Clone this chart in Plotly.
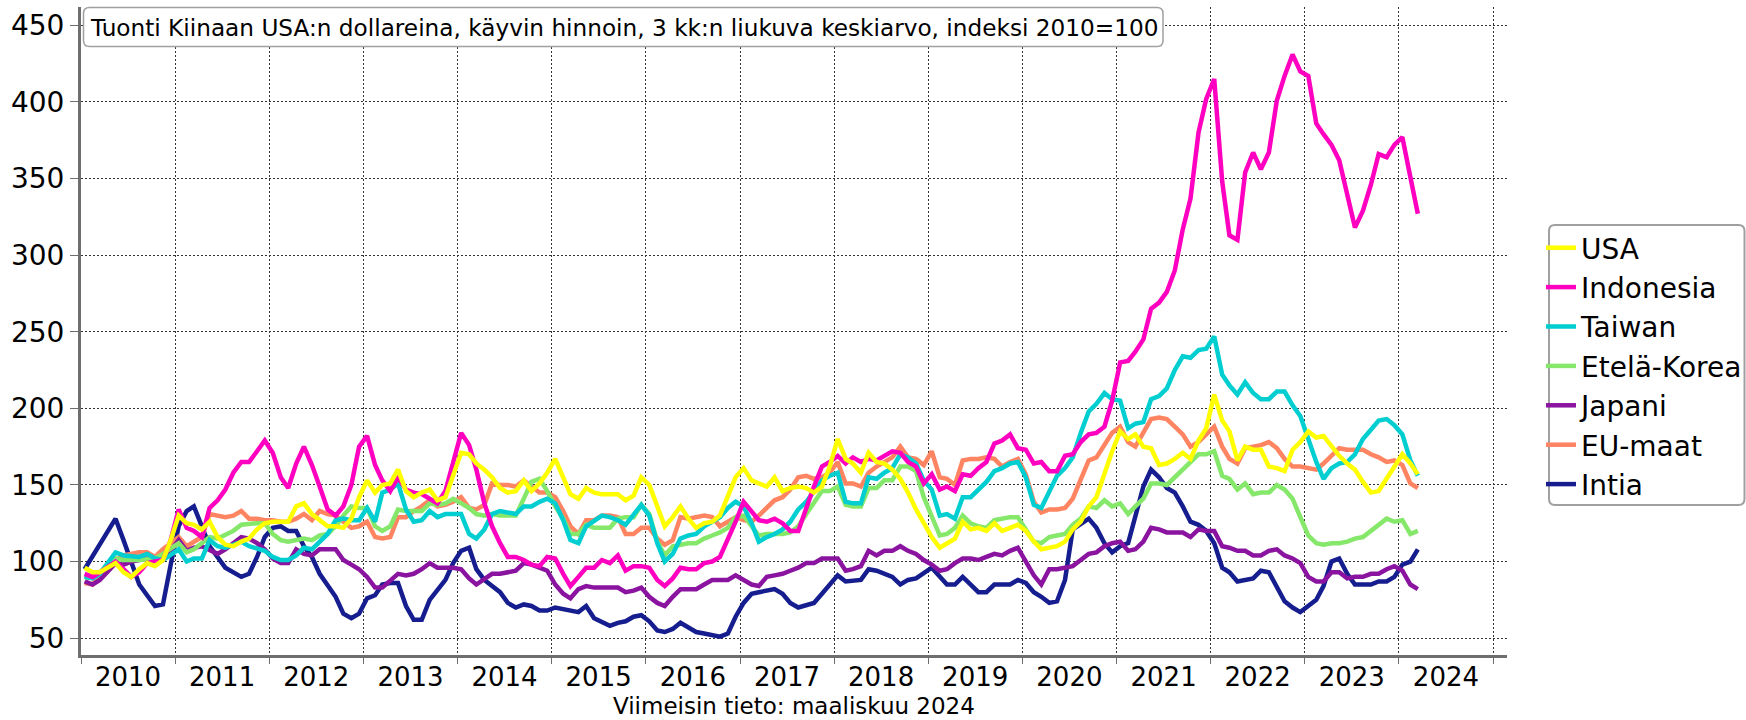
import plotly.graph_objects as go
import pandas as pd

# Index values (2010=100), 3-month moving average.
# Each pair: (months since January 2010, value)
USA = [(0,96),(1,93),(2,93),(4,99),(5,93),(6,90),(7,95),(8,99),(9,97),(10,101),(11,114),(12,130),(13,125),(14,124),(15,121),(16,126),(17,116),(18,111),(19,110),(20,113),(21,115),(22,121),(23,125),(24,126),(25,126),(26,126),(27,136),(28,138),(29,131),(30,127),(31,123),(32,123),(33,122),(34,128),(35,142),(36,153),(37,145),(38,150),(39,151),(40,160),(41,146),(42,142),(43,145),(44,147),(45,140),(46,142),(47,156),(48,171),(49,170),(50,164),(51,160),(52,155),(53,148),(54,145),(55,146),(56,153),(57,146),(58,151),(59,158),(60,167),(61,155),(62,144),(63,141),(64,148),(65,145),(66,144),(67,144),(68,144),(69,140),(70,143),(71,155),(72,150),(73,136),(74,123),(75,129),(76,136),(77,128),(78,122),(79,125),(80,126),(81,130),(82,142),(83,155),(84,161),(85,153),(86,151),(87,149),(88,155),(89,146),(90,148),(91,149),(92,148),(93,145),(94,149),(95,162),(96,180),(97,167),(98,164),(99,158),(100,171),(101,165),(102,164),(103,160),(104,154),(105,145),(106,134),(107,125),(108,116),(109,109),(110,112),(111,115),(112,126),(113,121),(114,122),(115,120),(116,125),(117,120),(118,122),(119,124),(120,120),(121,113),(122,108),(123,109),(124,110),(125,113),(126,121),(127,126),(128,136),(129,142),(130,158),(131,172),(132,185),(133,180),(134,183),(135,175),(136,174),(137,163),(138,164),(139,167),(140,171),(141,167),(142,179),(143,187),(144,209),(145,192),(146,185),(147,166),(148,175),(149,173),(150,173),(151,162),(152,161),(153,159),(154,173),(155,178),(156,185),(157,181),(158,182),(159,175),(160,169),(161,164),(162,160),(163,152),(164,145),(165,146),(166,154),(167,163),(168,170),(169,164),(170,157)]

INDONESIA = [(0,92),(1,90),(2,93),(4,100),(5,95),(6,90),(7,93),(8,99),(10,101),(11,114),(12,134),(13,122),(14,120),(15,116),(16,135),(17,140),(18,147),(19,158),(20,165),(21,165),(22,172),(23,179),(24,171),(25,155),(26,148),(27,164),(28,175),(29,163),(30,149),(31,134),(32,130),(33,136),(34,150),(35,175),(36,182),(37,163),(38,153),(39,146),(40,155),(41,147),(42,145),(43,144),(44,141),(45,138),(46,146),(47,164),(48,184),(49,176),(50,160),(51,138),(52,123),(53,112),(54,103),(55,103),(56,101),(57,98),(58,97),(59,103),(60,102),(61,92),(62,84),(63,90),(64,96),(65,96),(66,101),(67,99),(68,104),(69,94),(70,97),(71,97),(72,96),(73,88),(74,84),(75,89),(76,96),(77,95),(78,95),(79,99),(80,100),(81,103),(82,114),(83,126),(84,139),(85,133),(86,127),(87,126),(88,128),(89,125),(90,120),(91,120),(92,135),(93,149),(94,162),(95,165),(96,169),(97,164),(98,168),(99,165),(100,167),(101,166),(102,169),(103,172),(104,171),(105,165),(106,162),(107,151),(108,157),(109,147),(110,149),(111,146),(112,157),(113,156),(114,161),(115,165),(116,177),(117,179),(118,183),(119,174),(120,173),(121,164),(122,165),(123,159),(124,159),(125,169),(126,170),(127,178),(128,183),(129,184),(130,188),(131,205),(132,230),(133,231),(134,237),(135,245),(136,265),(137,269),(138,276),(139,290),(140,317),(141,337),(142,380),(143,402),(144,415),(145,348),(146,313),(147,310),(148,354),(149,367),(150,356),(151,367),(152,401),(153,417),(154,431),(155,420),(156,417),(157,386),(158,379),(159,372),(160,362),(161,338),(162,318),(163,329),(164,346),(165,366),(166,364),(167,372),(168,377),(169,351),(170,327)]

TAIWAN = [(0,90),(1,89),(2,92),(4,106),(5,104),(7,103),(8,105),(9,102),(10,101),(12,108),(13,100),(14,102),(15,102),(16,114),(17,110),(18,109),(20,113),(21,110),(23,107),(24,103),(25,101),(26,101),(27,104),(28,109),(29,108),(30,113),(31,118),(32,127),(33,128),(34,127),(35,127),(36,135),(37,126),(38,145),(39,147),(40,151),(41,134),(42,126),(43,127),(44,133),(45,129),(46,131),(47,131),(48,131),(49,118),(50,115),(51,121),(52,131),(53,133),(54,132),(55,131),(56,136),(57,136),(58,139),(59,141),(60,138),(61,127),(62,114),(63,112),(64,123),(65,127),(66,130),(67,129),(68,127),(69,124),(70,131),(71,137),(72,130),(73,112),(74,100),(75,105),(76,115),(77,117),(78,118),(79,123),(80,126),(81,129),(82,135),(83,139),(84,136),(85,125),(86,113),(87,116),(88,118),(89,121),(90,126),(91,134),(92,139),(93,146),(94,153),(95,156),(96,158),(97,139),(98,138),(99,138),(100,155),(101,154),(102,158),(103,161),(104,170),(105,168),(106,164),(107,153),(108,147),(109,130),(110,131),(111,128),(112,142),(113,142),(114,147),(115,152),(116,159),(117,161),(118,164),(119,165),(120,155),(121,137),(122,135),(123,146),(124,156),(125,161),(126,168),(127,184),(128,198),(129,203),(130,210),(131,206),(132,205),(133,187),(134,190),(135,191),(136,206),(137,208),(138,213),(139,225),(140,234),(141,233),(142,238),(143,239),(144,247),(145,222),(146,215),(147,209),(148,217),(149,210),(150,206),(151,206),(152,211),(153,211),(154,202),(155,195),(156,179),(157,165),(158,154),(159,161),(160,164),(161,165),(162,170),(163,180),(164,186),(165,192),(166,193),(167,189),(168,183),(169,166),(170,156)]

ETELA_KOREA = [(0,89),(2,93),(4,102),(5,101),(7,101),(9,102),(10,105),(12,112),(13,106),(14,108),(16,116),(17,115),(19,120),(20,124),(22,125),(23,125),(24,118),(25,114),(26,113),(27,114),(28,115),(29,114),(30,117),(31,118),(32,123),(33,130),(34,136),(35,135),(36,135),(37,123),(38,120),(39,123),(40,134),(41,133),(42,133),(43,133),(44,138),(45,137),(46,138),(47,141),(48,138),(49,135),(50,131),(51,130),(52,131),(53,130),(54,130),(55,130),(56,141),(57,152),(58,154),(59,146),(60,136),(61,128),(62,118),(63,118),(64,124),(65,122),(66,122),(67,122),(68,128),(69,129),(70,129),(71,137),(72,131),(73,113),(74,104),(75,110),(76,111),(77,112),(78,112),(79,115),(80,117),(81,119),(82,122),(83,129),(84,130),(85,123),(86,117),(87,118),(88,118),(89,118),(90,119),(91,123),(92,131),(93,138),(94,146),(95,146),(96,149),(97,137),(98,136),(99,136),(100,148),(101,148),(102,153),(103,153),(104,162),(105,162),(106,159),(107,142),(108,130),(109,117),(110,118),(111,122),(112,130),(113,125),(114,123),(115,122),(116,127),(117,128),(118,129),(119,129),(120,121),(121,113),(122,112),(123,116),(124,117),(125,118),(126,124),(127,128),(128,136),(129,135),(130,140),(131,136),(132,138),(133,131),(134,136),(135,141),(136,151),(137,151),(138,150),(139,155),(140,161),(141,165),(142,170),(143,170),(144,172),(145,156),(146,154),(147,147),(148,151),(149,144),(150,145),(151,145),(152,150),(153,147),(154,141),(155,129),(156,117),(157,112),(158,111),(159,112),(160,112),(161,113),(162,115),(163,116),(164,120),(165,124),(166,128),(167,126),(168,127),(169,118),(170,120)]

JAPANI = [(0,87),(1,85),(2,88),(4,99),(5,98),(6,100),(8,102),(9,99),(11,107),(12,114),(13,107),(14,109),(15,110),(17,105),(18,108),(20,116),(21,115),(22,112),(23,108),(24,102),(25,99),(26,99),(27,108),(28,105),(29,104),(30,108),(32,108),(33,101),(34,98),(35,95),(36,90),(37,83),(38,83),(39,88),(40,92),(41,91),(42,92),(43,95),(44,99),(45,96),(46,96),(47,96),(48,95),(49,89),(50,85),(51,89),(52,92),(53,92),(54,93),(55,94),(56,99),(57,98),(58,96),(59,94),(60,85),(61,79),(62,76),(63,82),(64,84),(65,83),(66,83),(67,83),(68,83),(69,80),(70,81),(71,83),(72,77),(73,73),(74,71),(75,77),(76,82),(77,82),(78,82),(79,85),(80,88),(81,88),(82,88),(83,91),(84,88),(85,85),(86,84),(87,90),(88,91),(89,92),(90,94),(91,96),(92,99),(93,99),(94,102),(95,102),(96,102),(97,94),(98,95),(99,97),(100,107),(101,104),(102,107),(103,107),(104,110),(105,107),(106,105),(107,101),(108,98),(109,94),(110,95),(111,99),(112,102),(113,102),(114,101),(115,103),(116,105),(117,104),(118,107),(119,109),(120,100),(121,91),(122,85),(123,95),(124,95),(125,96),(126,97),(127,101),(128,105),(129,106),(130,110),(131,112),(132,113),(133,107),(134,108),(135,113),(136,122),(137,121),(138,119),(139,119),(140,119),(141,116),(142,121),(143,120),(144,120),(145,110),(146,109),(147,107),(148,107),(149,104),(150,104),(151,107),(152,108),(153,104),(154,102),(155,99),(156,90),(157,87),(158,87),(159,93),(160,93),(161,89),(162,90),(163,90),(164,92),(165,92),(166,95),(167,97),(168,94),(169,85),(170,82)]

EU_MAAT = [(0,86),(1,85),(2,92),(4,101),(5,104),(6,105),(7,106),(8,106),(9,103),(10,108),(11,112),(12,116),(13,110),(14,113),(15,116),(16,131),(17,130),(18,129),(19,130),(20,133),(21,128),(22,128),(23,127),(24,127),(25,126),(26,126),(27,128),(28,131),(29,127),(30,133),(31,131),(32,130),(33,126),(34,122),(35,123),(36,126),(37,116),(38,115),(39,116),(40,129),(41,129),(42,133),(43,136),(44,140),(45,136),(46,137),(47,139),(48,142),(49,135),(50,134),(51,137),(52,151),(53,150),(54,150),(55,149),(56,153),(57,149),(58,145),(59,145),(60,142),(61,133),(62,123),(63,118),(64,127),(65,127),(66,130),(67,130),(68,129),(69,118),(70,118),(71,122),(72,122),(73,115),(74,111),(75,114),(76,129),(77,128),(78,129),(79,130),(80,129),(81,123),(82,126),(83,129),(84,127),(85,126),(86,130),(87,135),(88,140),(89,142),(90,147),(91,155),(92,156),(93,154),(94,155),(95,158),(96,165),(97,151),(98,151),(99,149),(100,158),(101,162),(102,165),(103,168),(104,175),(105,168),(106,167),(107,163),(108,172),(109,155),(110,154),(111,150),(112,166),(113,167),(114,167),(115,168),(116,167),(117,162),(118,165),(119,167),(120,157),(121,139),(122,132),(123,134),(124,134),(125,135),(126,141),(127,153),(128,166),(129,168),(130,176),(131,184),(132,188),(133,178),(134,175),(135,184),(136,193),(137,194),(138,193),(139,188),(140,183),(141,175),(142,178),(143,183),(144,188),(145,175),(146,167),(147,164),(148,174),(149,175),(150,176),(151,178),(152,174),(153,167),(154,162),(155,162),(156,161),(157,160),(158,164),(159,169),(160,174),(161,173),(162,173),(163,173),(164,170),(165,168),(166,165),(167,166),(168,163),(169,151),(170,148)]

INTIA = [(0,95),(4,128),(5,114),(7,85),(9,71),(10,72),(11,98),(12,123),(13,133),(14,136),(15,123),(16,110),(18,96),(20,90),(21,92),(22,103),(23,116),(24,122),(25,123),(26,120),(27,120),(28,110),(29,103),(30,92),(32,77),(33,66),(34,63),(35,66),(36,76),(37,78),(38,85),(39,86),(40,86),(41,71),(42,62),(43,62),(44,75),(45,82),(46,88),(47,99),(48,107),(49,109),(50,95),(51,88),(53,80),(54,73),(55,70),(56,72),(57,71),(58,68),(59,68),(60,70),(61,69),(63,67),(64,71),(65,63),(67,58),(68,60),(69,61),(70,64),(71,65),(72,61),(73,55),(74,54),(75,56),(76,60),(77,57),(78,54),(79,53),(81,51),(82,53),(83,64),(84,73),(85,79),(86,80),(88,82),(89,79),(90,73),(91,70),(93,73),(94,79),(96,91),(97,87),(99,88),(100,95),(101,94),(103,90),(104,85),(105,88),(106,89),(108,96),(109,90),(110,85),(111,85),(112,90),(113,85),(114,80),(115,80),(116,85),(118,85),(119,88),(120,86),(121,80),(122,77),(123,73),(124,74),(125,88),(126,121),(128,128),(129,122),(130,112),(131,106),(132,110),(133,112),(134,131),(135,149),(136,160),(137,155),(138,148),(139,145),(140,136),(141,126),(142,124),(143,120),(144,112),(145,96),(146,93),(147,87),(149,89),(150,94),(151,93),(152,84),(153,74),(154,70),(155,67),(157,75),(158,84),(159,100),(160,102),(161,92),(162,85),(164,85),(165,87),(166,87),(167,90),(168,98),(169,100),(170,108)]

SERIES_NAMES = ["USA", "Indonesia", "Taiwan", "Etelä-Korea", "Japani", "EU-maat", "Intia"]
SERIES_DATA = [USA, INDONESIA, TAIWAN, ETELA_KOREA, JAPANI, EU_MAAT, INTIA]
SERIES_COLORS = ["#FFFF00", "#FF00C0", "#00CED1", "#85E86A", "#8A14A0", "#FF8462", "#161E8F"]

TITLE_TEXT = "Tuonti Kiinaan USA:n dollareina, käyvin hinnoin, 3 kk:n liukuva keskiarvo, indeksi 2010=100"
XTITLE_TEXT = "Viimeisin tieto: maaliskuu 2024"
Y_TICKS = [50, 100, 150, 200, 250, 300, 350, 400, 450]

FONT = "DejaVu Sans"
W, H = 1746, 720
ML, MR, MT, MB = 81, 239, 7, 65


def month_date(m):
    return pd.Timestamp(year=2010 + m // 12, month=m % 12 + 1, day=15)


fig = go.Figure()
for rank in reversed(range(len(SERIES_NAMES))):
    pts = SERIES_DATA[rank]
    fig.add_trace(go.Scatter(
        x=[month_date(m) for m, _ in pts],
        y=[v for _, v in pts],
        mode="lines",
        name=SERIES_NAMES[rank],
        line=dict(color=SERIES_COLORS[rank], width=4.5),
        legendrank=rank + 1,
    ))

# pixel -> paper helpers for decorative boxes
pw = W - ML - MR
ph = H - MT - MB


def px(x):
    return (x - ML) / pw


def py(y):
    return (H - MB - y) / ph


def rrect(x0, y0, x1, y1, r):
    pts = [
        ("M", x0 + r, y0), ("L", x1 - r, y0), ("Q", x1, y0, x1, y0 + r),
        ("L", x1, y1 - r), ("Q", x1, y1, x1 - r, y1), ("L", x0 + r, y1),
        ("Q", x0, y1, x0, y1 - r), ("L", x0, y0 + r), ("Q", x0, y0, x0 + r, y0),
    ]
    s = ""
    for p in pts:
        cmd = p[0]
        coords = p[1:]
        parts = []
        for i in range(0, len(coords), 2):
            parts.append(f"{px(coords[i]):.5f},{py(coords[i + 1]):.5f}")
        s += cmd + " " + " ".join(parts) + " "
    return s + "Z"


fig.add_shape(type="path", xref="paper", yref="paper",
              path=rrect(83.5, 7.5, 1163, 46.5, 6),
              line=dict(color="#a0a0a0", width=1.5), fillcolor="white", layer="above")
fig.add_shape(type="path", xref="paper", yref="paper",
              path=rrect(1549, 225, 1744.5, 505, 6),
              line=dict(color="#a0a0a0", width=2), fillcolor="white", layer="below")

fig.add_annotation(
    text=TITLE_TEXT, xref="paper", yref="paper", x=px(88), y=py(27),
    xanchor="left", yanchor="middle", showarrow=False,
    font=dict(family=FONT, size=23.2, color="black"),
)
fig.add_annotation(
    text=XTITLE_TEXT, xref="paper", yref="paper", x=0.5, y=py(706),
    xanchor="center", yanchor="middle", showarrow=False,
    font=dict(family=FONT, size=23, color="black"),
)

grid_dash = "2px,2px"
fig.update_layout(
    width=W, height=H,
    margin=dict(l=ML, r=MR, t=MT, b=MB, autoexpand=False),
    paper_bgcolor="white", plot_bgcolor="white",
    font=dict(family=FONT, color="black"),
    showlegend=True,
    hovermode=False,
    legend=dict(
        x=px(1541), y=py(223), xanchor="left", yanchor="top",
        font=dict(family=FONT, size=28, color="black"),
        bgcolor="rgba(0,0,0,0)", borderwidth=0,
    ),
    xaxis=dict(
        type="date", range=["2010-01-01", "2025-02-24"],
        tick0="2010-01-01", dtick="M12", tickformat="%Y", ticklabelmode="period",
        showgrid=True, gridcolor="#333333", gridwidth=1, griddash=grid_dash,
        showline=True, linecolor="#6e6e6e", linewidth=3,
        ticks="outside", ticklen=6, tickcolor="#6e6e6e", tickwidth=1,
        tickfont=dict(family=FONT, size=26, color="black"),
        ticklabelstandoff=-9,
        zeroline=False, automargin=False,
    ),
    yaxis=dict(
        range=[39, 462], tickmode="array", tickvals=Y_TICKS,
        showgrid=True, gridcolor="#333333", gridwidth=1, griddash=grid_dash,
        showline=True, linecolor="#6e6e6e", linewidth=3,
        ticks="outside", ticklen=8, tickcolor="#6e6e6e", tickwidth=1,
        tickfont=dict(family=FONT, size=28, color="black"),
        zeroline=False, automargin=False,
    ),
)

fig.write_html(
    "out.html",
    config={"displayModeBar": False},
    post_script="document.body.style.margin='0';document.body.style.padding='0';"
                "document.documentElement.style.overflow='hidden';",
)
